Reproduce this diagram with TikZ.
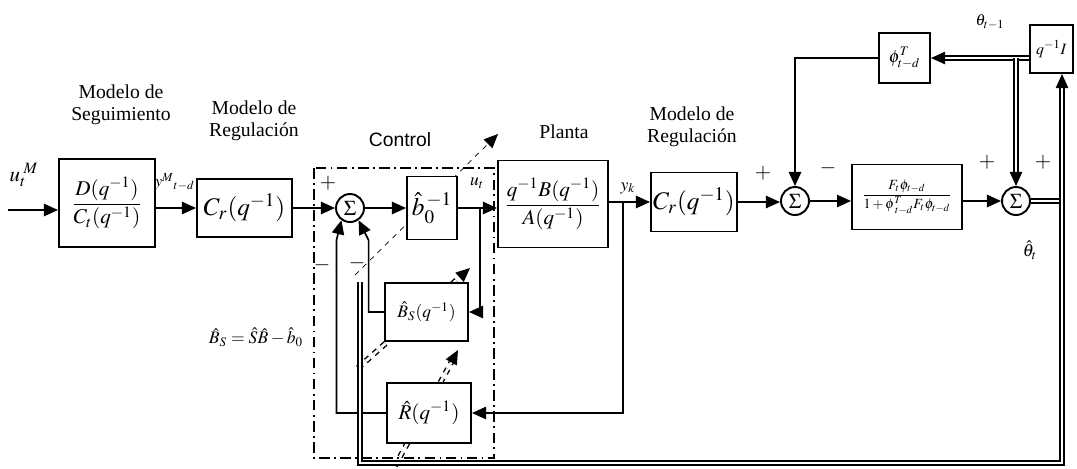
\documentclass[tikz,border=0pt]{standalone}
\usepackage{amsmath}
\usepackage{mathptmx}
\usepackage{fontspec}
\setmainfont{Liberation Serif}
\newfontfamily\ctrlfont{Liberation Sans}
\usetikzlibrary{arrows.meta,positioning,calc,backgrounds}

\begin{document}
\begin{tikzpicture}[
  x=0.02cm, y=-0.02cm,
  >={Triangle[length=8pt,width=7pt]},
  line width=0.95pt,
  blk/.style={
    draw,
    fill=white,
    line width=1.1pt,
    inner sep=0pt,
    align=center
  },
  sumnode/.style={
    circle,
    draw,
    fill=white,
    line width=1.1pt,
    minimum size=0.56cm,
    inner sep=0pt,
    font=\large
  },
  lbl/.style={align=center, font=\fontsize{11.2}{12.3}\selectfont},
  sgn/.style={font=\large},
  dbl/.style={double, double distance=1.6pt, line width=0.8pt},
  ctrlframe/.style={dash pattern=on 6pt off 2.5pt on 1pt off 2.5pt, line width=0.9pt}
]
  \useasboundingbox (0,0) rectangle (1077,468);

  % Titles above the blocks
  \node[lbl] (tseg) at (121,105) {Modelo de\\Seguimiento};
  \node[lbl] (treg) at (254,121) {Modelo de\\Regulación};
  \node[font=\ctrlfont\fontsize{11}{13}\selectfont] (tctrl) at (400,140) {Control};
  \node[lbl] (tplant) at (564,132) {Planta};
  \node[lbl] (tregb) at (692,127) {Modelo de\\Regulación};

  % Forward path
  \coordinate (uin) at (8,210);
  \node[blk, minimum width=1.92cm, minimum height=1.76cm, font=\large] (mseg) at (107,203)
    {$\dfrac{D(q^{-1})}{C_t(q^{-1})}$};
  \node[blk, minimum width=1.9cm, minimum height=1.16cm, font=\Large] (mreg) at (244.5,208)
    {$C_r(q^{-1})$};
  \node[sumnode] (sum1) at (350,208) {$\Sigma$};
  \node[blk, minimum width=1.0cm, minimum height=1.26cm, font=\Large] (binv) at (432,208)
    {$\hat{b}_0^{\,-1}$};
  \node[blk, minimum width=2.2cm, minimum height=1.74cm, font=\large] (plant) at (553,204)
    {$\dfrac{q^{-1}B(q^{-1})}{A(q^{-1})}$};
  \node[blk, minimum width=1.72cm, minimum height=1.18cm, font=\Large] (mregb) at (694,202)
    {$C_r(q^{-1})$};

  % Inner loops of the controller
  \node[blk, minimum width=1.66cm, minimum height=1.16cm] (bs) at (426.5,312)
    {$\hat{B}_S(q^{-1})$};
  \node[blk, minimum width=1.68cm, minimum height=1.2cm, font=\large] (rr) at (429,413)
    {$\hat{R}(q^{-1})$};

  % Estimator
  \node[sumnode] (sum2) at (795,201) {$\Sigma$};
  \node[blk, minimum width=2.2cm, minimum height=1.3cm, font=\footnotesize] (fgain) at (907,197)
    {$\dfrac{F_t\phi_{t-d}}{1+\phi^{T}_{\;t-d}F_t\phi_{t-d}}$};
  \node[sumnode] (sum3) at (1016,201) {$\Sigma$};
  \node[blk, minimum width=1.02cm, minimum height=1.0cm] (phi) at (904.5,58)
    {$\phi^{T}_{t-d}$};
  \node[blk, minimum width=0.86cm, minimum height=0.96cm, font=\small] (qd) at (1051.5,49)
    {$q^{-1}I$};

  \coordinate (ut) at (480,208);
  \coordinate (yk) at (623,202);
  \coordinate (jn) at (1062,201);
  \coordinate (br) at (1062,463);
  \coordinate (bl) at (360,463);
  \coordinate (pe) at (360,282);

  % Control frame and adaptive arrows
  \begin{scope}[on background layer]
    \draw[ctrlframe] (314,168) rectangle (494,458);
    \draw[dashed, ->] (355,275) -- (498,134);
    \draw[dbl, dashed, ->] (358,368) -- (470,268);
    \draw[dbl, dashed, ->] (395,466) -- (458,350);
  \end{scope}

  % Connectors
  \draw[->] (uin) -- (mseg.west |- uin);
  \draw[->] (mseg.east |- mreg.west) -- (mreg);
  \draw[->] (mreg) -- (sum1);
  \draw[->] (sum1) -- (binv);
  \draw[->] (binv) -- (plant.west |- binv.east);
  \draw[->] (ut) |- (bs);
  \draw[->] (bs.west) -| ($(sum1.305)+(10,20)$) -- (sum1.305);
  \draw[->] (rr.west) -| ($(sum1.235)+(-5,20)$) -- (sum1.235);
  \draw[->] (plant.east |- mregb.west) -- (mregb);
  \draw[->] (yk) |- (rr);
  \draw[->] (mregb.east) -- (sum2.west |- mregb.east);
  \draw[->] (phi.west) -| (sum2.north);
  \draw[->] (sum2) -- (fgain.west |- sum2.east);
  \draw[->] (fgain.east |- sum3.west) -- (sum3);
  \draw[dbl] (sum3) -- (jn);
  \draw[dbl, ->] (jn) -- (jn |- qd.south);
  \draw[dbl, ->] (qd.west |- phi.east) -- (phi);
  \draw[dbl, ->] (sum3.north |- phi.east) -- (sum3.north);
  \draw[dbl] (jn) -- (br) -- (bl) -- (pe);

  % Signal labels and signs
  \node (lum) at (24,175) {\large$u_t^{\;M}$};
  \node[font=\small] (lym) at (175,182) {$y^{M}{}_{t-d}$};
  \node (lut) at (477,183) {$u_t$};
  \node (lyk) at (628,188) {$y_k$};
  \node[font=\small] (lth1) at (990,22) {$\theta_{t-1}$};
  \node (lth) at (1030,250) {$\hat{\theta}_t$};
  \node (lbs) at (256,337) {$\hat{B}_S=\hat{S}\hat{B}-\hat{b}_0$};
  \node[sgn] at (328,183) {$+$};
  \node[sgn] at (322,265) {$-$};
  \node[sgn] at (357,263) {$-$};
  \node[sgn] at (763,173) {$+$};
  \node[sgn] at (828,168) {$-$};
  \node[sgn] at (987,162) {$+$};
  \node[sgn] at (1043,162) {$+$};

\end{tikzpicture}
\end{document}
